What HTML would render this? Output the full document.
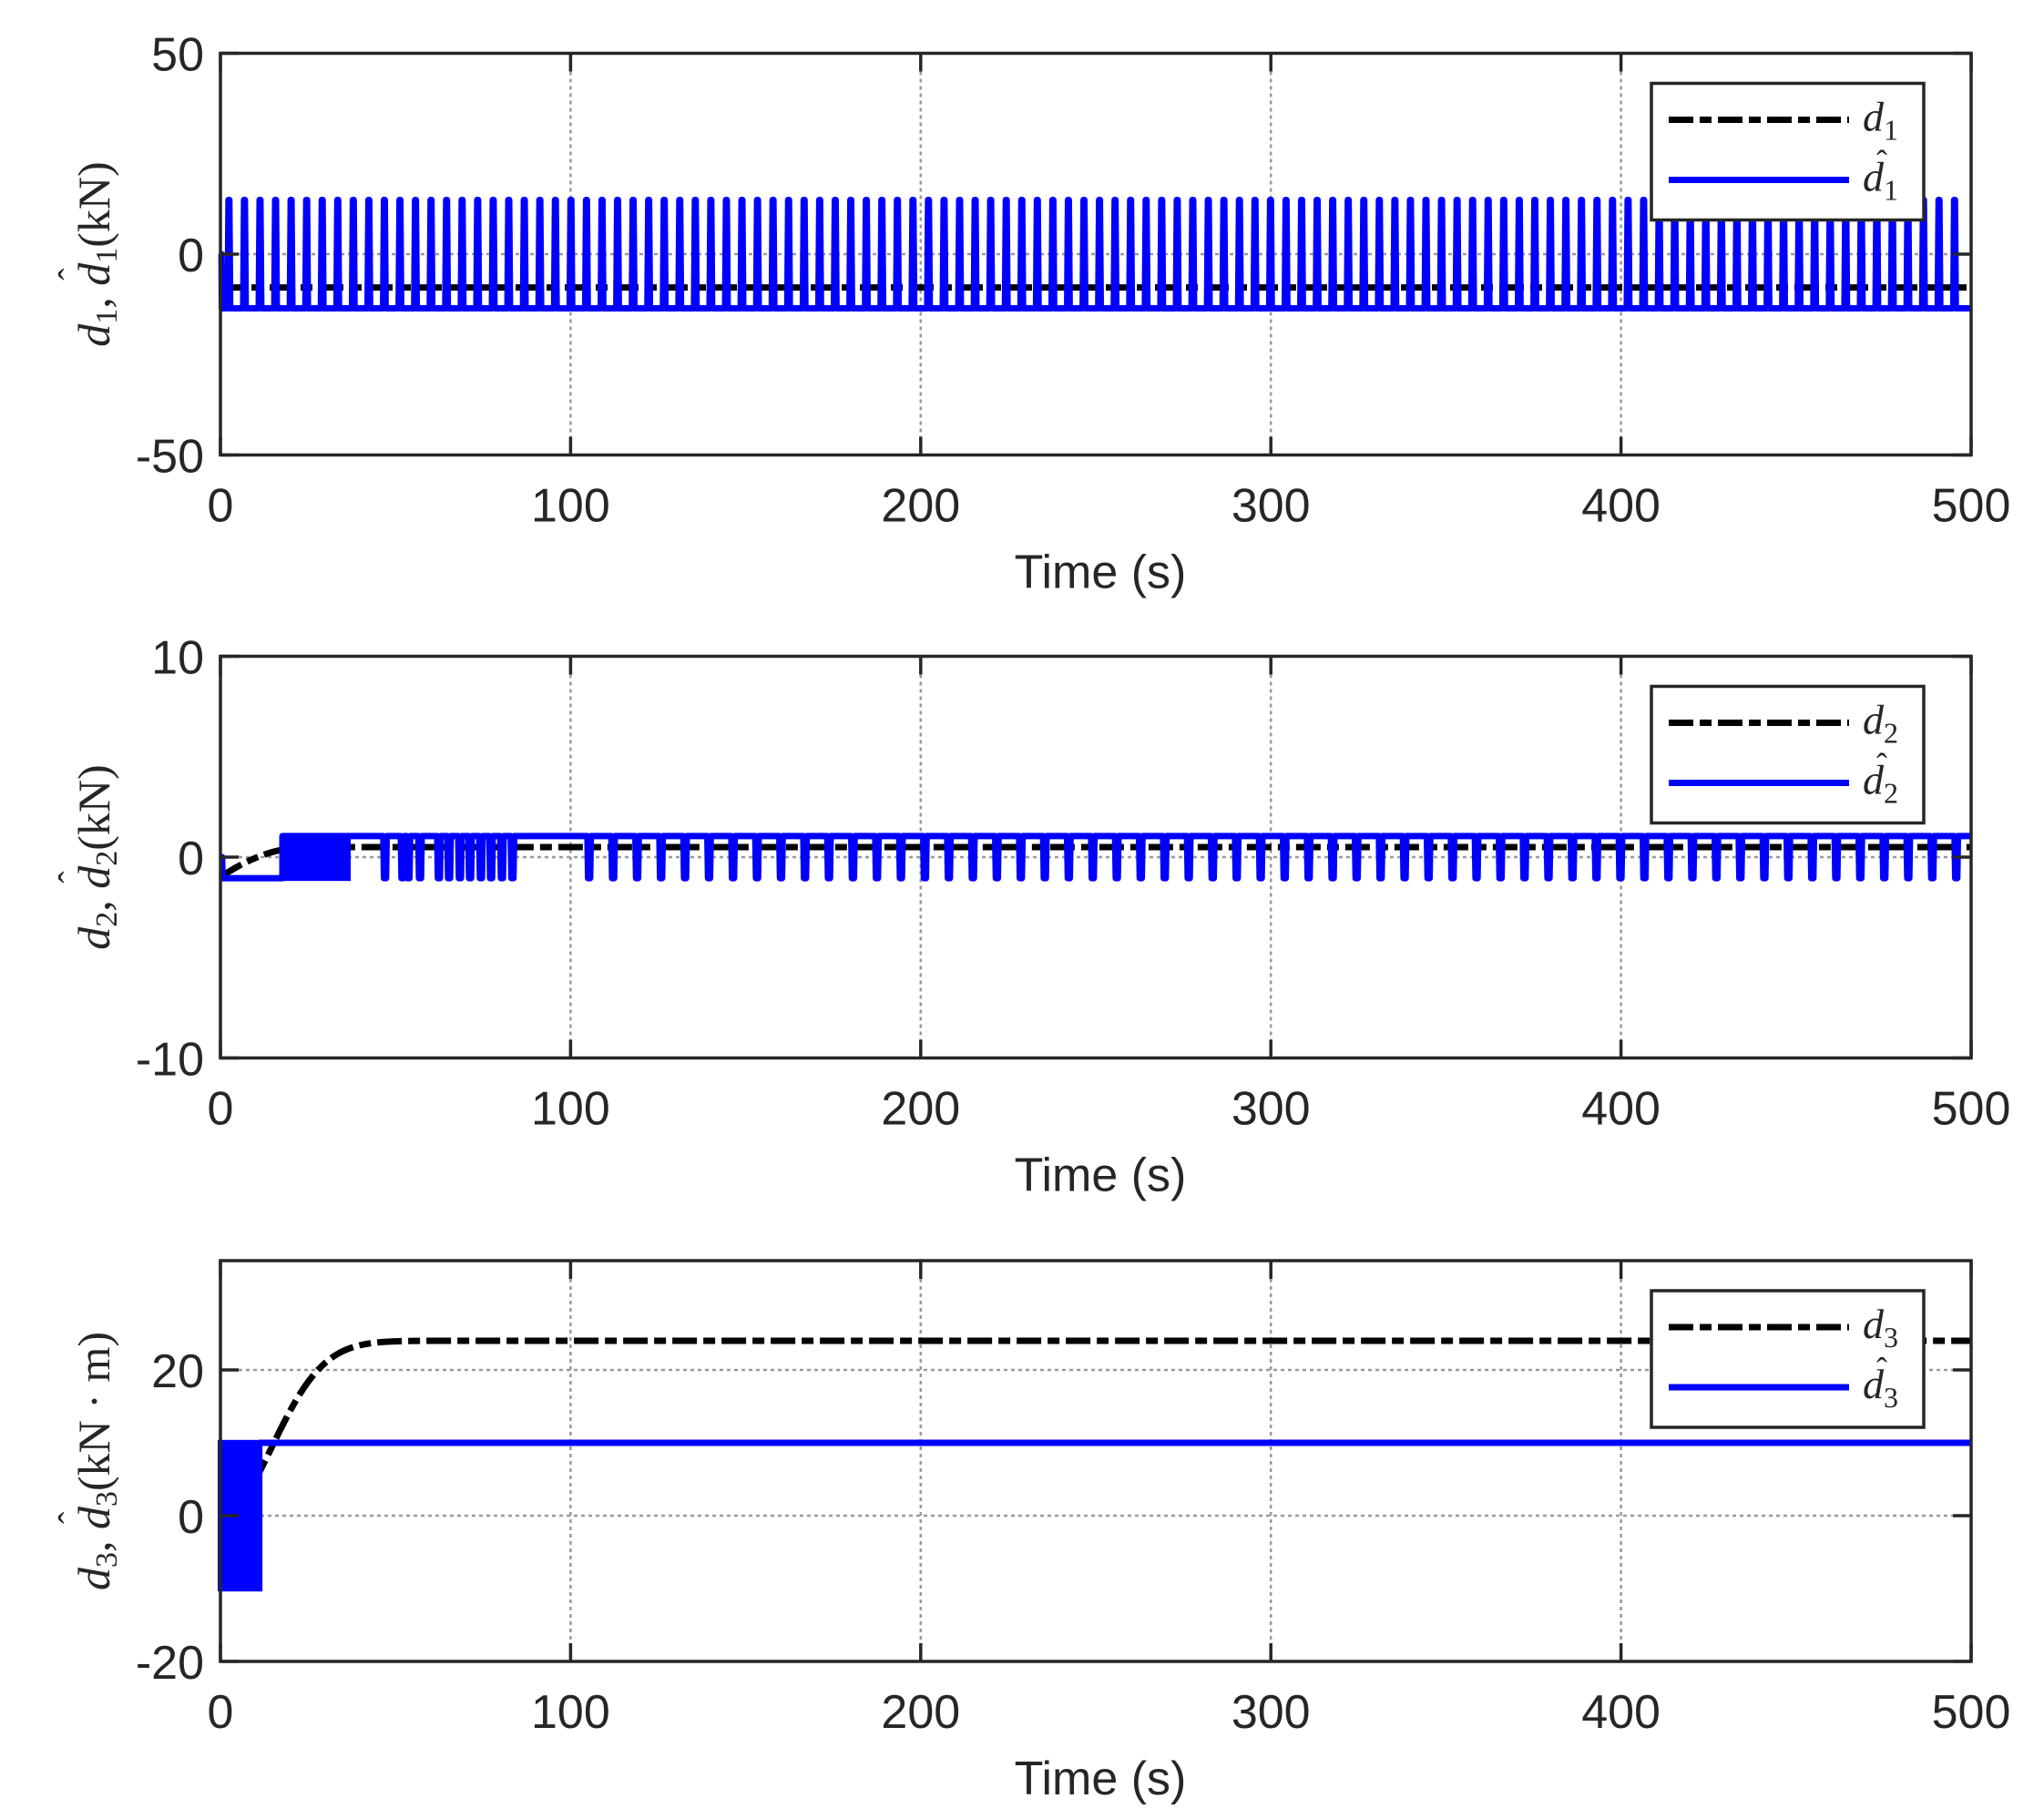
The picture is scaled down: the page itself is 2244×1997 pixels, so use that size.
<!DOCTYPE html>
<html><head><meta charset="utf-8"><style>
html,body{margin:0;padding:0;background:#fff}
svg{display:block}
.tk{font-family:"Liberation Sans",Arial,sans-serif;font-size:52px;fill:#262626}
.ser{font-family:"Liberation Serif","DejaVu Serif",serif;fill:#262626}
</style></head><body>
<svg id="s" xmlns="http://www.w3.org/2000/svg" width="2244" height="1997" viewBox="0 0 2244 1997"></svg>
<script>
const S=document.getElementById('s');
let h='';
const L=242,R=2164;
const X=t=>L+t*(R-L)/500;
const P=[{T:58.5,B:499.5,y0:279,k:4.41,yt:[[-50,'-50'],[0,'0'],[50,'50']],grid:[0],lab:'(kN)',n:1},
{T:720.5,B:1161.5,y0:941,k:22.05,yt:[[-10,'-10'],[0,'0'],[10,'10']],grid:[0],lab:'(kN)',n:2},
{T:1384,B:1824,y0:1664,k:8,yt:[[-20,'-20'],[0,'0'],[20,'20']],grid:[0,20],lab:'(kN · m)',n:3}];
P.forEach((p,i)=>{
 const Y=v=>p.y0-v*p.k;
 for(let t=100;t<500;t+=100)h+=`<line x1="${X(t)}" y1="${p.T+20}" x2="${X(t)}" y2="${p.B-20}" stroke="#999" stroke-width="2.5" stroke-dasharray="4 4"/>`;
 p.grid.forEach(v=>h+=`<line x1="${L+20}" y1="${Y(v)}" x2="${R-20}" y2="${Y(v)}" stroke="#999" stroke-width="2.5" stroke-dasharray="4 4"/>`);
 let d='';
 if(i==0){
  h+=`<line x1="${L}" y1="${Y(-8.3)}" x2="${R}" y2="${Y(-8.3)}" stroke="#000" stroke-width="7" stroke-dasharray="27 7 13 7"/>`;
  d=`M${L},${Y(0)} L${X(0.3)},${Y(0)} L${X(0.4)},${Y(-13.5)}`;
  for(let j=0;j<=111;j++){const t=2.4+j*4.44;d+=` L${X(t-0.35)},${Y(-13.5)} L${X(t-0.1)},${Y(13.5)} L${X(t+0.15)},${Y(13.5)} L${X(t+0.4)},${Y(-13.5)}`;}
  d+=` L${R},${Y(-13.5)}`;
  h+=`<path d="${d}" fill="none" stroke="#0000ff" stroke-width="7" stroke-linejoin="round"/>`;
 }else if(i==1){
  let b='';for(let t=0;t<=500;t+=1){const v=t<25?-1+1.5*(1-Math.pow(1-t/25,2)):0.5;b+=(t?' L':'M')+X(t)+','+Y(v);}
  h+=`<path d="${b}" fill="none" stroke="#000" stroke-width="7" stroke-dasharray="27 7 13 7"/>`;
  d=`M${L},${Y(0)} L${X(0.5)},${Y(0)} L${X(0.6)},${Y(-1.05)} L${X(17.7)},${Y(-1.05)} L${X(17.7)},${Y(1.05)} L${X(37.2)},${Y(1.05)}`;
  const sp=[47,52,53.7,57,62.4,65.3,68.4,71.3,74.4,77.3,80.4,83.4];
  for(let t=105.3;t<499;t+=6.85)sp.push(t);
  sp.forEach(t=>{d+=` L${X(t-0.5)},${Y(1.05)} L${X(t-0.3)},${Y(-1.05)} L${X(t+0.3)},${Y(-1.05)} L${X(t+0.5)},${Y(1.05)}`;});
  d+=` L${R},${Y(1.05)}`;
  h+=`<rect x="${X(17.7)}" y="${Y(1.05)-3}" width="${X(37.2)-X(17.7)}" height="${Y(-1.05)-Y(1.05)+6}" fill="#0000ff"/>`;
  h+=`<path d="${d}" fill="none" stroke="#0000ff" stroke-width="7" stroke-linejoin="round"/>`;
 }else{
  let b='';for(let t=0;t<=500;t+=1){const v=24*(1-Math.exp(-Math.pow(t/20.8,2)));b+=(t?' L':'M')+X(t)+','+Y(v);}
  h+=`<path d="${b}" fill="none" stroke="#000" stroke-width="7" stroke-dasharray="27 7 13 7"/>`;
  h+=`<rect x="${L-3}" y="${Y(10.4)}" width="${X(12)-L+3}" height="${Y(-10.4)-Y(10.4)}" fill="#0000ff"/>`;
  h+=`<line x1="${X(11)}" y1="${Y(10)}" x2="${R}" y2="${Y(10)}" stroke="#0000ff" stroke-width="7"/>`;
 }
 h+=`<rect x="${L}" y="${p.T}" width="${R-L}" height="${p.B-p.T}" fill="none" stroke="#262626" stroke-width="3.5"/>`;
 for(let t=0;t<=500;t+=100){h+=`<line x1="${X(t)}" y1="${p.B}" x2="${X(t)}" y2="${p.B-20}" stroke="#262626" stroke-width="3.5"/><line x1="${X(t)}" y1="${p.T}" x2="${X(t)}" y2="${p.T+20}" stroke="#262626" stroke-width="3.5"/>`;
  h+=`<text class="tk" x="${X(t)}" y="${p.B+73}" text-anchor="middle">${t}</text>`;}
 p.yt.forEach(([v,s])=>{h+=`<line x1="${L}" y1="${Y(v)}" x2="${L+20}" y2="${Y(v)}" stroke="#262626" stroke-width="3.5"/><line x1="${R}" y1="${Y(v)}" x2="${R-20}" y2="${Y(v)}" stroke="#262626" stroke-width="3.5"/>`;
  h+=`<text class="tk" x="224" y="${Y(v)+19}" text-anchor="end">${s}</text>`;});
 h+=`<text class="tk" x="1208" y="${p.B+146}" text-anchor="middle">Time (s)</text>`;
 const cy=(p.T+p.B)/2;
 h+=`<g transform="translate(120,${cy}) rotate(-90)"><text class="ser ylab" x="0" y="0" text-anchor="middle" font-size="50"><tspan font-style="italic">d</tspan><tspan font-size="34" dy="8">${p.n}</tspan><tspan dy="-8">, </tspan><tspan font-style="italic">d</tspan><tspan font-size="34" dy="8">${p.n}</tspan><tspan dy="-8">${p.lab}</tspan></text><text class="ser yhat" x="0" y="-28" font-size="40">ˆ</text></g>`;
 const lt=p.T+33;
 h+=`<rect x="1813" y="${lt}" width="299" height="150" fill="#fff" stroke="#262626" stroke-width="3.5"/>`;
 h+=`<line x1="1832" y1="${lt+40}" x2="2030" y2="${lt+40}" stroke="#000" stroke-width="7" stroke-dasharray="27 7 13 7"/>`;
 h+=`<line x1="1832" y1="${lt+106}" x2="2030" y2="${lt+106}" stroke="#0000ff" stroke-width="7"/>`;
 h+=`<text class="ser" x="2045" y="${lt+52}" font-size="46" fill="#000"><tspan font-style="italic">d</tspan><tspan font-size="32" dy="10">${p.n}</tspan></text>`;
 h+=`<text class="ser" x="2045" y="${lt+118}" font-size="46" fill="#000"><tspan font-style="italic">d</tspan><tspan font-size="32" dy="10">${p.n}</tspan></text>`;
 h+=`<text class="ser" x="2060" y="${lt+98}" font-size="36" fill="#000">ˆ</text>`;
});
S.innerHTML=h;
const labs=document.querySelectorAll('.ylab'),hats=document.querySelectorAll('.yhat');
labs.forEach((t,i)=>{try{const x=t.getStartPositionOfChar(4).x;hats[i].setAttribute('x',x+6);}catch(e){}});
</script>
</body></html>
